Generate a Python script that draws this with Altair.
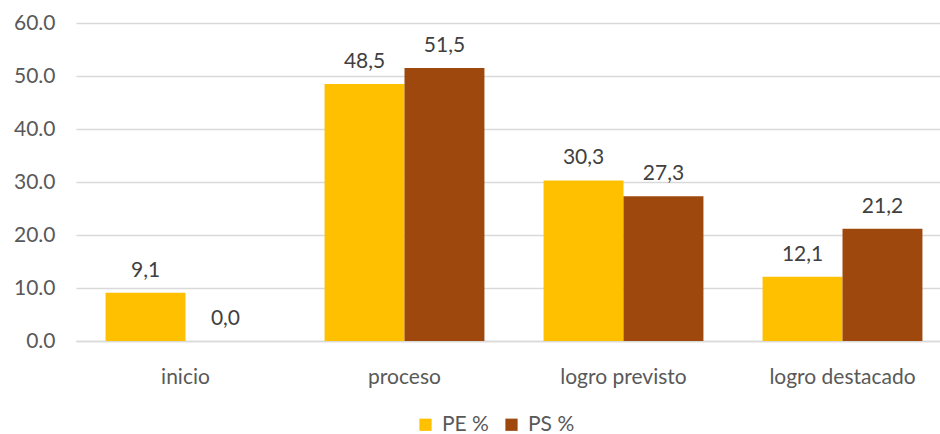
import altair as alt
import pandas as pd

categories = ["inicio", "proceso", "logro previsto", "logro destacado"]
pe_values = [9.1, 48.5, 30.3, 12.1]
ps_values = [0.0, 51.5, 27.3, 21.2]
series = ["PE %", "PS %"]
colors = ["#FFC000", "#9E480E"]

rows = []
for c, a, b in zip(categories, pe_values, ps_values):
    rows.append({"cat": c, "serie": series[0], "val": a})
    rows.append({"cat": c, "serie": series[1], "val": b})
df = pd.DataFrame(rows)
df["lab"] = df["val"].map(lambda v: f"{v:.1f}".replace(".", ","))

FONT = "Lato"
FS = 21

base = alt.Chart(df).encode(
    x=alt.X("cat:N", sort=categories, title=None,
            scale=alt.Scale(range=[0, 876], paddingInner=0.27, paddingOuter=0.135),
            axis=alt.Axis(labelAngle=0, labelFont=FONT, labelFontSize=FS,
                          labelColor="#595959", ticks=False, domainColor="#D9D9D9",
                          domainWidth=1.5, labelPadding=25)),
    xOffset=alt.XOffset("serie:N", sort=series),
)

bars = base.mark_bar().encode(
    y=alt.Y("val:Q", title=None,
            scale=alt.Scale(domain=[0, 60], nice=False),
            axis=alt.Axis(values=[0, 10, 20, 30, 40, 50, 60], format=".1f",
                          labelFont=FONT, labelFontSize=FS, labelColor="#595959",
                          ticks=False, domain=False, gridColor="#D9D9D9",
                          gridWidth=1.5, labelPadding=21)),
    color=alt.Color("serie:N", sort=series,
                    scale=alt.Scale(domain=series, range=colors),
                    legend=alt.Legend(title=None, orient="none", direction="horizontal",
                                      legendX=339, legendY=391,
                                      labelFont=FONT, labelFontSize=FS,
                                      labelColor="#595959", symbolType="square",
                                      symbolSize=150, symbolStrokeWidth=0,
                                      columnPadding=12, labelOffset=6)),
)

labels = base.mark_text(dy=-22, font=FONT, fontSize=FS, color="#404040").encode(
    y=alt.Y("val:Q"),
    text="lab:N",
)

chart = (bars + labels).properties(
    width=864, height=318,
    autosize=alt.AutoSizeParams(type="none"),
    padding={"left": 76, "top": 23, "right": 0, "bottom": 93},
).configure_view(stroke=None).configure_axis(grid=True).configure_axisX(grid=False)

chart.save("out.html", embed_options={"renderer": "svg", "actions": False})
